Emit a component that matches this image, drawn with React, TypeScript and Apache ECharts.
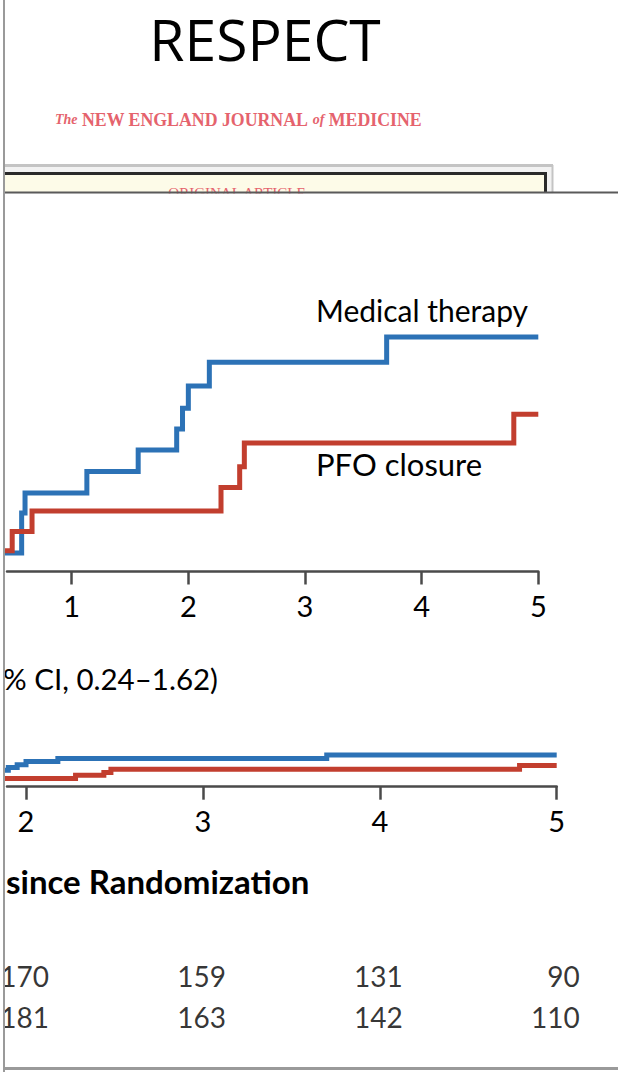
import React, { useEffect, useRef } from "react";
import * as echarts from "echarts";

// ---- data (years since randomization, cumulative % with event) ----
const medTimes = [0, 0.2, 0.571, 0.6, 1.13, 1.57, 1.9, 1.95, 2.0, 2.18, 3.7, 5.0];
const medPct = [0, 0.46, 1.46, 1.96, 2.5, 3.04, 3.56, 4.08, 4.64, 5.23, 5.86, 5.86];
const pfoTimes = [0, 0.15, 0.49, 0.66, 2.28, 2.44, 2.48, 4.79, 5.0];
const pfoPct = [0, 0.52, 1.0, 1.51, 2.1, 2.62, 3.21, 3.93, 3.93];

const insetTicks = [1, 2, 3, 4, 5];
const mainTicks = [2, 3, 4, 5];

const riskYears = [2, 3, 4, 5];
const riskRows = ["PFO closure", "Medical therapy"];
const medAtRisk = [170, 159, 131, 90];
const pfoAtRisk = [181, 163, 142, 110];

const BLUE = "#2c72b6";
const RED = "#c23e2e";
const AXIS = "#4a4a4a";
const FONT = 'Lato, "Open Sans", sans-serif';
const SERIF = '"Liberation Serif", "DejaVu Serif", serif';
const PINK = "#e5636d";

export default function App() {
  const ref = useRef<HTMLDivElement>(null);

  useEffect(() => {
    if (!ref.current) return;
    const chart = echarts.init(ref.current, undefined, { renderer: "svg" });

    const medData = medTimes.map((t, i) => [t, medPct[i]]);
    const pfoData = pfoTimes.map((t, i) => [t, pfoPct[i]]);
    const riskData = [
      ...riskYears.map((y, i) => [y, "Medical therapy", medAtRisk[i]]),
      ...riskYears.map((y, i) => [y, "PFO closure", pfoAtRisk[i]]),
    ];

    const axisCommon = (ticks: number[], margin: number) => ({
      type: "value" as const,
      axisLine: { show: true, lineStyle: { color: AXIS, width: 2.5 } },
      axisTick: {
        show: true,
        customValues: ticks,
        length: 13,
        lineStyle: { color: AXIS, width: 2.5 },
      },
      axisLabel: {
        show: true,
        customValues: ticks,
        fontSize: 29,
        color: "#000",
        fontFamily: FONT,
        margin,
      },
      splitLine: { show: false },
    });

    const lineSeries = (data: number[][], color: string, idx: number, z: number) => ({
      type: "line" as const,
      xAxisIndex: idx,
      yAxisIndex: idx,
      step: "end" as const,
      data,
      symbol: "none",
      showSymbol: false,
      clip: true,
      z,
      lineStyle: { color, width: 5, cap: "butt" as const, join: "miter" as const },
    });

    chart.setOption({
      animation: false,
      backgroundColor: "#ffffff",
      grid: [
        { left: 7, top: 251.5, width: 531.3, height: 320 },
        { left: 7, top: 245.7, width: 549.7, height: 541 },
        { left: 7, top: 955, width: 549.7, height: 82 },
      ],
      xAxis: [
        { gridIndex: 0, min: 0.4454, max: 5, ...axisCommon(insetTicks, 19) },
        { gridIndex: 1, min: 1.8925, max: 5, ...axisCommon(mainTicks, 19) },
        { gridIndex: 2, type: "value", min: 1.8925, max: 5, show: false },
      ],
      yAxis: [
        { gridIndex: 0, type: "value", min: 0, max: 8, show: false },
        { gridIndex: 1, type: "value", min: 0, max: 100, show: false },
        { gridIndex: 2, type: "category", data: riskRows, show: false },
      ],
      series: [
        lineSeries(medData, BLUE, 0, 3),
        lineSeries(pfoData, RED, 0, 4),
        lineSeries(medData, BLUE, 1, 3),
        lineSeries(pfoData, RED, 1, 4),
        {
          type: "scatter",
          xAxisIndex: 2,
          yAxisIndex: 2,
          data: riskData,
          symbolSize: 2,
          z: 5,
          itemStyle: { color: "rgba(255,255,255,0)" },
          label: {
            show: true,
            position: "inside",
            align: "right",
            verticalAlign: "middle",
            offset: [23, 0],
            fontSize: 28,
            color: "#000",
            fontFamily: FONT,
            formatter: (p: any) => String(p.value[2]),
          },
        },
      ],
      graphic: [
        // slide title
        {
          type: "text",
          z: 5,
          style: {
            text: "RESPECT",
            x: 265,
            y: 38.5,
            align: "center",
            verticalAlign: "middle",
            fontSize: 57,
            fontFamily: '"Open Sans", Lato, sans-serif',
            fill: "#000",
          },
        },
        // journal masthead
        {
          type: "text",
          z: 5,
          style: {
            text: "{i|The} {c|NEW ENGLAND JOURNAL} {i|of} {c|MEDICINE}",
            x: 55,
            y: 119.5,
            align: "left",
            verticalAlign: "middle",
            fill: PINK,
            rich: {
              i: { fontFamily: SERIF, fontStyle: "italic", fontWeight: "bold", fontSize: 14, fill: PINK },
              c: { fontFamily: SERIF, fontWeight: "bold", fontSize: 17.8, fill: PINK },
            },
            fontFamily: SERIF,
            fontSize: 17.8,
          },
        },
        // article box
        { type: "rect", z: 0, shape: { x: 5, y: 164, width: 548, height: 30 }, style: { fill: "#f2f2f2" } },
        { type: "line", z: 1, shape: { x1: 5, y1: 165.5, x2: 553, y2: 165.5 }, style: { stroke: "#c4c4c4", lineWidth: 3 } },
        { type: "line", z: 1, shape: { x1: 552.5, y1: 165, x2: 552.5, y2: 193 }, style: { stroke: "#c4c4c4", lineWidth: 2 } },
        { type: "rect", z: 1, shape: { x: 5, y: 175, width: 540, height: 18 }, style: { fill: "#fdfbe8" } },
        { type: "line", z: 1, shape: { x1: 5, y1: 173.5, x2: 547, y2: 173.5 }, style: { stroke: "#2a2a2a", lineWidth: 3 } },
        { type: "line", z: 1, shape: { x1: 545.5, y1: 172, x2: 545.5, y2: 193 }, style: { stroke: "#2a2a2a", lineWidth: 3 } },
        {
          type: "text",
          z: 1,
          style: {
            text: "ORIGINAL ARTICLE",
            x: 237,
            y: 185,
            align: "center",
            verticalAlign: "top",
            fontSize: 15,
            fontFamily: SERIF,
            fill: PINK,
          },
        },
        // panel cover + top edge
        { type: "rect", z: 2, shape: { x: 5, y: 193.5, width: 560, height: 40 }, style: { fill: "#ffffff" } },
        { type: "line", z: 6, shape: { x1: 5, y1: 192.5, x2: 618, y2: 192.5 }, style: { stroke: "#5a5a5a", lineWidth: 2 } },
        // chart annotations
        {
          type: "text",
          z: 6,
          style: {
            text: "Medical therapy",
            x: 316,
            y: 310,
            align: "left",
            verticalAlign: "middle",
            fontSize: 30,
            fontFamily: FONT,
            fill: "#000",
          },
        },
        {
          type: "text",
          z: 6,
          style: {
            text: "PFO closure",
            x: 316,
            y: 464,
            align: "left",
            verticalAlign: "middle",
            fontSize: 31,
            fontFamily: FONT,
            fill: "#000",
          },
        },
        {
          type: "text",
          z: 6,
          style: {
            text: "% CI, 0.24\u20131.62)",
            x: 218,
            y: 678,
            align: "right",
            verticalAlign: "middle",
            fontSize: 29.5,
            fontFamily: FONT,
            fill: "#000",
          },
        },
        {
          type: "text",
          z: 6,
          style: {
            text: "since Randomization",
            x: 6,
            y: 881,
            align: "left",
            verticalAlign: "middle",
            fontSize: 33,
            fontWeight: "bold",
            fontFamily: FONT,
            fill: "#000",
          },
        },
        // bottom edge
        { type: "line", z: 6, shape: { x1: 5, y1: 1068.5, x2: 618, y2: 1068.5 }, style: { stroke: "#9a9a9a", lineWidth: 3 } },
        // left edge
        { type: "rect", z: 9, shape: { x: 0, y: 0, width: 3, height: 1072 }, style: { fill: "#ffffff" } },
        { type: "line", z: 10, shape: { x1: 4, y1: 0, x2: 4, y2: 1072 }, style: { stroke: "#9a9a9a", lineWidth: 2 } },
      ],
    });

    return () => chart.dispose();
  }, []);

  return (
    <div
      ref={ref}
      style={{ position: "absolute", left: 0, top: 0, width: 618, height: 1072, background: "#fff" }}
    />
  );
}
